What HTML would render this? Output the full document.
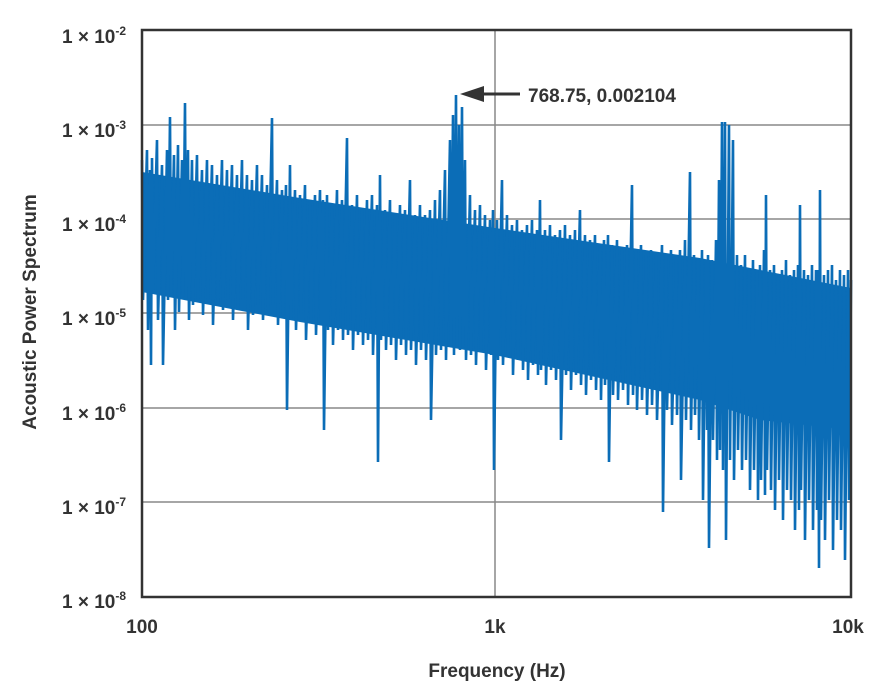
<!DOCTYPE html>
<html><head><meta charset="utf-8"><style>
body{margin:0;background:#fff;}
svg{display:block;font-family:"Liberation Sans",sans-serif;font-weight:bold;fill:#333;}
</style></head><body>
<svg width="883" height="699" viewBox="0 0 883 699" xmlns="http://www.w3.org/2000/svg">
<g stroke="#888" stroke-width="1.5">
<line x1="142" y1="125" x2="851" y2="125"/><line x1="142" y1="219" x2="851" y2="219"/>
<line x1="142" y1="313" x2="851" y2="313"/><line x1="142" y1="408" x2="851" y2="408"/>
<line x1="142" y1="502" x2="851" y2="502"/><line x1="495" y1="30" x2="495" y2="597"/>
</g>
<polygon points="142,172 300,198 495,228 700,258 851,288 851,430 760,420 700,400 495,355 300,322 142,292" fill="#0b6db7"/>
<polyline fill="none" stroke="#0b6db7" stroke-width="2.6" stroke-linejoin="bevel" points="
142,160 143,300 147,150 148,330 150,170 151,365 152,158 153,290 157,140 158,320 162,165 163,365 167,150 168,300 170,117 171,295 174,155 175,330 178,145 179,312 182,160 183,295 185,103 186,300 188,150 189,320 192,160 193,305 197,155 198,300 202,170 203,315 207,160 208,300 212,165 213,325 217,175 218,305 222,160 223,310 227,170 228,300 232,165 233,320 237,175 238,310 242,160 243,300 247,175 248,330 252,180 253,315 257,165 258,305 262,175 263,320 267,185 268,310 272,118 273,305 277,180 278,325 282,190 283,315 286,185 287,410 290,165 291,320 295,190 296,330 300,195 301,315 305,185 306,340 310,200 311,320 315,195 316,335 320,190 321,325 323,200 324,430 327,195 328,330 332,205 333,345 337,190 338,330 342,200 343,340 347,138 348,335 352,205 353,350 357,195 358,335 362,210 363,345 367,200 368,340 372,195 373,355 377,205 378,462 380,175 381,340 385,210 386,350 390,200 391,345 395,215 396,360 400,205 401,345 405,210 406,355 410,180 411,350 415,215 416,365 420,205 421,350 425,215 426,360 430,210 431,420 435,200 436,355 440,190 441,350 445,170 446,360 450,140 451,345 453,115 454,355 456,95 457,340 459,125 460,350 462,107 463,345 465,160 466,360 470,195 471,355 475,210 476,365 480,205 481,350 485,215 486,370 490,220 491,355 493,210 494,470 497,220 498,360 502,180 503,365 507,215 508,355 512,225 513,375 517,220 518,360 522,230 523,370 527,225 528,380 532,220 533,365 537,230 538,375 540,200 541,370 545,230 546,385 550,225 551,370 555,235 556,380 560,230 561,440 565,225 566,375 570,235 571,390 575,230 576,375 580,210 581,385 585,235 586,395 590,240 591,380 595,235 596,390 600,245 601,400 604,240 605,385 608,235 609,462 612,245 613,395 617,240 618,400 622,250 623,390 627,245 628,405 632,185 633,395 636,250 637,410 641,245 642,400 646,255 647,415 651,250 652,405 656,255 657,420 662,245 663,512 666,255 667,410 671,250 672,425 676,260 677,415 680,250 681,480 685,240 686,420 690,172 691,430 694,255 695,415 698,260 699,440 702,250 703,500 706,260 707,430 708,255 709,548 712,260 713,440 716,240 717,460 719,180 720,450 722,122 723,470 725,122 726,540 729,125 730,460 733,140 734,480 737,255 738,450 741,265 742,470 745,255 746,460 749,270 750,490 753,260 754,470 757,270 758,500 760,265 761,480 764,250 765,495 766,195 767,470 770,270 771,490 774,265 775,510 778,275 779,480 782,270 783,520 786,260 787,490 790,275 791,500 794,270 795,530 798,265 799,510 800,205 801,490 804,270 805,540 808,275 809,500 812,265 813,530 816,270 817,510 818,270 819,568 820,190 821,520 824,275 825,540 828,270 829,500 832,265 833,550 836,280 837,520 840,270 841,530 844,275 845,560 848,270 849,500 851,280"/>
<rect x="142" y="30" width="709" height="567" fill="none" stroke="#333" stroke-width="2.5"/>
<g font-size="19" text-anchor="end" fill="#333">
<text x="126" y="43">1 × 10<tspan font-size="12" dy="-8">-2</tspan></text>
<text x="126" y="137">1 × 10<tspan font-size="12" dy="-8">-3</tspan></text>
<text x="126" y="231">1 × 10<tspan font-size="12" dy="-8">-4</tspan></text>
<text x="126" y="325">1 × 10<tspan font-size="12" dy="-8">-5</tspan></text>
<text x="126" y="420">1 × 10<tspan font-size="12" dy="-8">-6</tspan></text>
<text x="126" y="514">1 × 10<tspan font-size="12" dy="-8">-7</tspan></text>
<text x="126" y="608">1 × 10<tspan font-size="12" dy="-8">-8</tspan></text>
</g>
<g font-size="19" text-anchor="middle">
<text x="142" y="633">100</text><text x="495" y="633">1k</text><text x="848" y="633">10k</text>
<text x="497" y="677">Frequency (Hz)</text>
<text transform="translate(36,312) rotate(-90)">Acoustic Power Spectrum</text>
</g>
<line x1="520" y1="94" x2="478" y2="94" stroke="#333" stroke-width="3"/>
<polygon points="460,94 484,86 484,102" fill="#333"/>
<text x="528" y="102" font-size="19">768.75, 0.002104</text>
</svg>
</body></html>
